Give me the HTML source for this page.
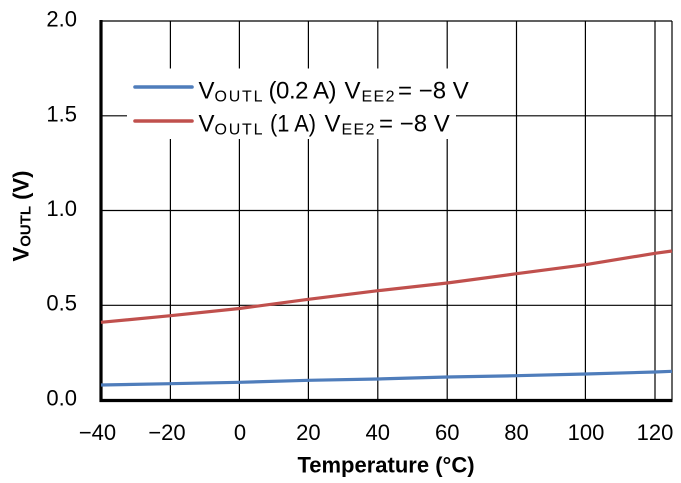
<!DOCTYPE html>
<html>
<head>
<meta charset="utf-8">
<style>
html,body{margin:0;padding:0;background:#fff;}
svg{display:block;}
text{font-family:"Liberation Sans",Arial,sans-serif;fill:#000;}
</style>
</head>
<body>
<svg width="681" height="483" viewBox="0 0 681 483" xmlns="http://www.w3.org/2000/svg">
  <rect x="0" y="0" width="681" height="483" fill="#fff"/>
  <!-- gridlines -->
  <g stroke="#000" stroke-width="1.2" fill="none">
    <line x1="101" y1="21" x2="672" y2="21"/>
    <line x1="101" y1="115.8" x2="672" y2="115.8"/>
    <line x1="101" y1="210.5" x2="672" y2="210.5"/>
    <line x1="101" y1="305.3" x2="672" y2="305.3"/>
    <line x1="170.4" y1="21" x2="170.4" y2="400"/>
    <line x1="239.4" y1="21" x2="239.4" y2="400"/>
    <line x1="308.4" y1="21" x2="308.4" y2="400"/>
    <line x1="377.8" y1="21" x2="377.8" y2="400"/>
    <line x1="447.2" y1="21" x2="447.2" y2="400"/>
    <line x1="516.5" y1="21" x2="516.5" y2="400"/>
    <line x1="585.4" y1="21" x2="585.4" y2="400"/>
    <line x1="655" y1="21" x2="655" y2="400"/>
    <line x1="672" y1="21" x2="672" y2="400"/>
  </g>
  <!-- legend background -->
  <rect x="127" y="68.5" width="329" height="70.5" fill="#fff"/>
  <!-- axes -->
  <line x1="101" y1="20" x2="101" y2="402" stroke="#000" stroke-width="3.2"/>
  <line x1="99.5" y1="400.5" x2="672.5" y2="400.5" stroke="#000" stroke-width="3.2"/>
  <!-- series -->
  <polyline fill="none" stroke="#c0504d" stroke-width="3.2" stroke-linejoin="round"
    points="101,322.3 170.5,315.7 239.4,308.5 308.4,299.3 377.8,290.7 447.2,283 516.5,273.7 585.4,264.7 655,253.3 672,251"/>
  <polyline fill="none" stroke="#4f7dbb" stroke-width="3.2" stroke-linejoin="round"
    points="101,385 170.5,383.7 239.4,382.3 308.4,380.3 377.8,379 447.2,377 516.5,375.7 585.4,374 655,372 672,371.3"/>
  <!-- legend -->
  <line x1="135" y1="87" x2="192" y2="87" stroke="#4f7dbb" stroke-width="3.6" stroke-linecap="round"/>
  <line x1="135" y1="121" x2="192" y2="121" stroke="#c0504d" stroke-width="3.6" stroke-linecap="round"/>
  <g font-size="24">
    <text x="198.5" y="98.3">V</text>
    <text x="214.5" y="101.7" font-size="16" textLength="48" lengthAdjust="spacing">OUTL</text>
    <text x="268.5" y="98.3" textLength="68" lengthAdjust="spacing">(0.2 A)</text>
    <text x="344.5" y="98.3">V</text>
    <text x="361.5" y="101.7" font-size="16" textLength="33" lengthAdjust="spacing">EE2</text>
    <text x="398" y="98.3">= −8 V</text>

    <text x="198.5" y="131.3">V</text>
    <text x="214.5" y="134.7" font-size="16" textLength="48" lengthAdjust="spacing">OUTL</text>
    <text x="270" y="131.3" textLength="46" lengthAdjust="spacingAndGlyphs">(1 A)</text>
    <text x="324.5" y="131.3">V</text>
    <text x="341.5" y="134.7" font-size="16" textLength="33" lengthAdjust="spacing">EE2</text>
    <text x="379" y="131.3">= −8 V</text>
  </g>
  <!-- y tick labels -->
  <g font-size="22" text-anchor="end">
    <text x="77" y="26.5">2.0</text>
    <text x="77" y="121.5">1.5</text>
    <text x="77" y="216">1.0</text>
    <text x="77" y="310.5">0.5</text>
    <text x="77" y="405.5">0.0</text>
  </g>
  <!-- x tick labels -->
  <g font-size="22" text-anchor="middle">
    <text x="97.5" y="440">−40</text>
    <text x="167" y="440">−20</text>
    <text x="240" y="440">0</text>
    <text x="308.4" y="440">20</text>
    <text x="377.8" y="440">40</text>
    <text x="447.2" y="440">60</text>
    <text x="516.5" y="440">80</text>
    <text x="586" y="440">100</text>
    <text x="655" y="440">120</text>
  </g>
  <!-- axis titles -->
  <text x="386" y="472.5" font-size="22" font-weight="bold" text-anchor="middle">Temperature (°C)</text>
  <text transform="translate(28.5,216) rotate(-90)" font-size="22" font-weight="bold" text-anchor="middle">V<tspan font-size="15" dy="2">OUTL</tspan><tspan dy="-2"> (V)</tspan></text>
</svg>
</body>
</html>
